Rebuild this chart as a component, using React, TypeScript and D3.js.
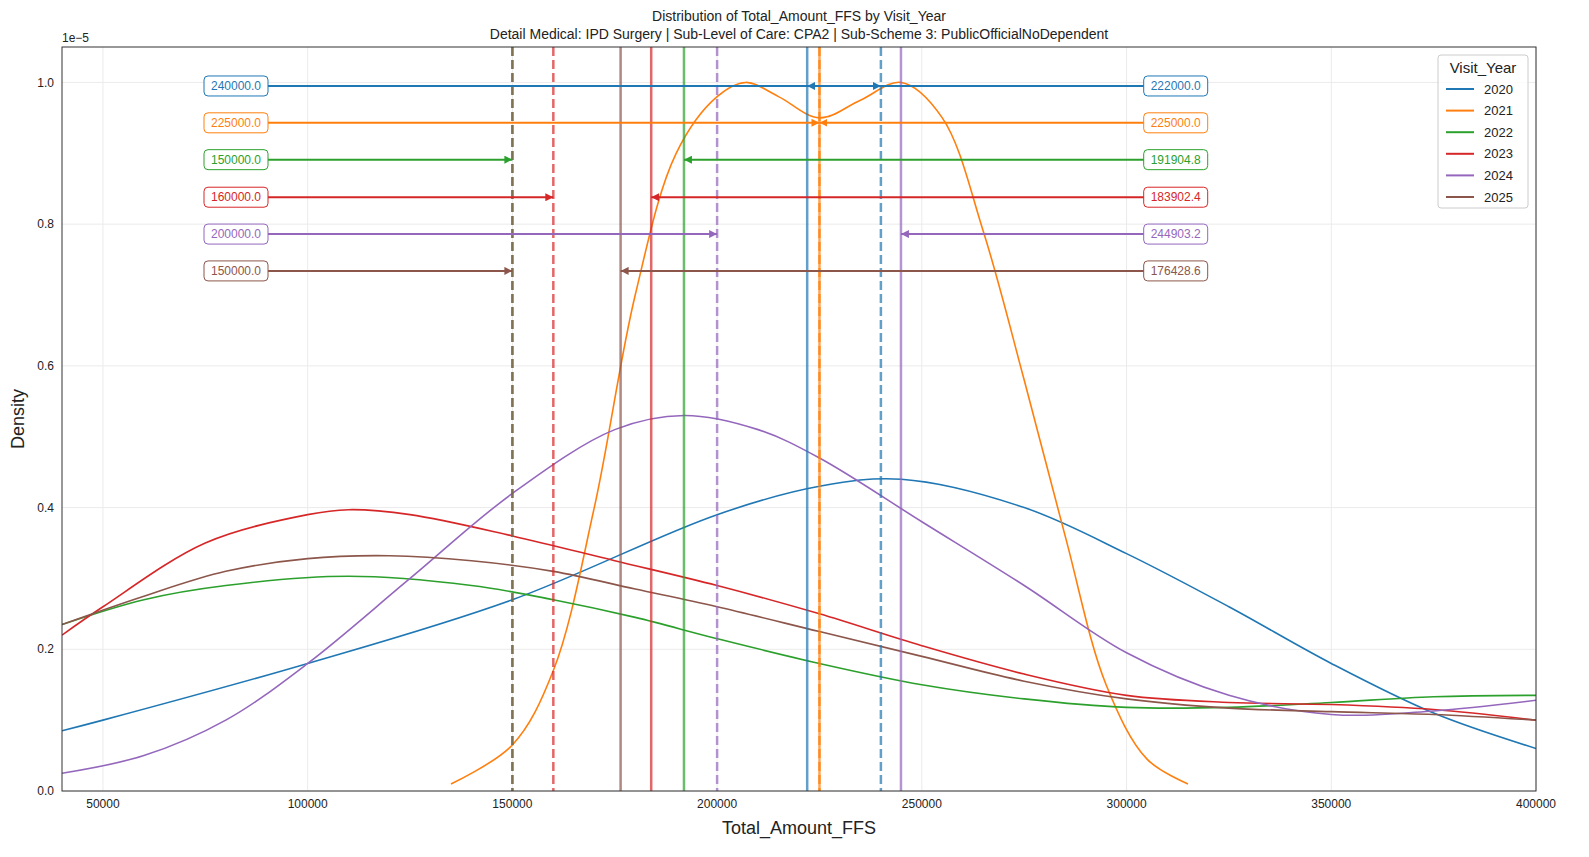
import React, { useRef, useEffect } from "react";
import * as d3 from "d3";

// colours per year, matplotlib tab10
const years = ["2020", "2021", "2022", "2023", "2024", "2025"];
const colors = ["#1f77b4", "#ff7f0e", "#2ca02c", "#d62728", "#9467bd", "#8c564b"];

// dashed lines (left labels) and solid lines (right labels)
const dashedValues = [240000, 225000, 150000, 160000, 200000, 150000];
const solidValues = [222000, 225000, 191904.8, 183902.4, 244903.2, 176428.6];
const arrowRows = [0.995, 0.943, 0.891, 0.838, 0.786, 0.734];

const xTicks = [50000, 100000, 150000, 200000, 250000, 300000, 350000, 400000];
const yTicks = [0, 0.2, 0.4, 0.6, 0.8, 1.0];

// density curves, in units of 1e-5: [x, y]
const d2020: [number, number][] = [[40000, 0.085], [50000, 0.1], [100000, 0.18], [150000, 0.27], [200000, 0.39], [225000, 0.43], [245000, 0.44], [275000, 0.4], [300000, 0.335], [325000, 0.26], [350000, 0.18], [375000, 0.11], [400000, 0.06]];
const d2021: [number, number][] = [[135000, 0.01], [150000, 0.065], [160000, 0.17], [170000, 0.4], [180000, 0.7], [190000, 0.9], [200000, 0.98], [207000, 1.0], [215000, 0.98], [225000, 0.95], [235000, 0.975], [245000, 1.0], [255000, 0.95], [265000, 0.79], [275000, 0.58], [285000, 0.36], [295000, 0.15], [305000, 0.045], [315000, 0.01]];
const d2022: [number, number][] = [[40000, 0.235], [60000, 0.27], [80000, 0.29], [110000, 0.303], [140000, 0.29], [160000, 0.27], [180000, 0.245], [200000, 0.215], [225000, 0.18], [250000, 0.15], [275000, 0.13], [300000, 0.118], [325000, 0.118], [350000, 0.125], [375000, 0.133], [400000, 0.135]];
const d2023: [number, number][] = [[40000, 0.22], [50000, 0.26], [75000, 0.35], [100000, 0.39], [110000, 0.397], [125000, 0.39], [150000, 0.36], [175000, 0.325], [200000, 0.29], [225000, 0.25], [250000, 0.205], [275000, 0.165], [300000, 0.135], [325000, 0.125], [350000, 0.122], [375000, 0.115], [400000, 0.1]];
const d2024: [number, number][] = [[40000, 0.025], [60000, 0.05], [80000, 0.1], [100000, 0.18], [125000, 0.3], [150000, 0.42], [175000, 0.51], [192000, 0.53], [210000, 0.51], [225000, 0.47], [250000, 0.38], [275000, 0.29], [300000, 0.195], [325000, 0.135], [350000, 0.108], [375000, 0.113], [400000, 0.128]];
const d2025: [number, number][] = [[40000, 0.235], [60000, 0.275], [80000, 0.31], [100000, 0.328], [120000, 0.332], [140000, 0.325], [160000, 0.31], [180000, 0.285], [200000, 0.26], [225000, 0.225], [250000, 0.19], [275000, 0.155], [300000, 0.13], [325000, 0.117], [350000, 0.112], [375000, 0.108], [400000, 0.1]];
const curves = [d2020, d2021, d2022, d2023, d2024, d2025];

const App: React.FC = () => {
  const ref = useRef<SVGSVGElement | null>(null);

  useEffect(() => {
    document.body.style.margin = "0";
    if (!ref.current) return;
    const svg = d3.select(ref.current);
    svg.selectAll("*").remove();

    const left = 62, right = 1536, top = 47, bottom = 791;
    const x = d3.scaleLinear().domain([40000, 400000]).range([left, right]);
    const y = d3.scaleLinear().domain([0, 1.05]).range([bottom, top]);
    const font = "'Liberation Sans', Arial, sans-serif";
    svg.style("font-family", font);

    svg.append("defs").selectAll("marker").data(colors).join("marker")
      .attr("id", (_, i) => `arr${i}`)
      .attr("viewBox", "0 0 10 10").attr("refX", 10).attr("refY", 5)
      .attr("markerWidth", 4).attr("markerHeight", 4).attr("orient", "auto")
      .append("path").attr("d", "M0,0L10,5L0,10z").attr("fill", (d) => d);

    svg.append("clipPath").attr("id", "clip").append("rect")
      .attr("x", left).attr("y", top).attr("width", right - left).attr("height", bottom - top);

    // grid
    const grid = svg.append("g").attr("stroke", "#ebebeb").attr("stroke-width", 1);
    xTicks.forEach((t) => grid.append("line").attr("x1", x(t)).attr("x2", x(t)).attr("y1", top).attr("y2", bottom));
    yTicks.forEach((t) => grid.append("line").attr("x1", left).attr("x2", right).attr("y1", y(t)).attr("y2", y(t)));

    const plot = svg.append("g").attr("clip-path", "url(#clip)");
    const line = d3.line<[number, number]>().x((d) => x(d[0])).y((d) => y(d[1])).curve(d3.curveCatmullRom);
    curves.forEach((c, i) => {
      plot.append("path").attr("d", line(c)!).attr("fill", "none")
        .attr("stroke", colors[i]).attr("stroke-width", 1.6);
    });

    // vertical reference lines
    years.forEach((_, i) => {
      plot.append("line").attr("x1", x(dashedValues[i])).attr("x2", x(dashedValues[i]))
        .attr("y1", top).attr("y2", bottom).attr("stroke", colors[i]).attr("stroke-opacity", 0.7)
        .attr("stroke-width", 2.5).attr("stroke-dasharray", "9,4");
      plot.append("line").attr("x1", x(solidValues[i])).attr("x2", x(solidValues[i]))
        .attr("y1", top).attr("y2", bottom).attr("stroke", colors[i]).attr("stroke-opacity", 0.7)
        .attr("stroke-width", 2.5);
    });

    // arrows and labels
    const lx = 82500, rx = 312000;
    years.forEach((_, i) => {
      const yy = y(arrowRows[i]);
      plot.append("line").attr("x1", x(lx)).attr("x2", x(dashedValues[i])).attr("y1", yy).attr("y2", yy)
        .attr("stroke", colors[i]).attr("stroke-width", 2).attr("marker-end", `url(#arr${i})`);
      plot.append("line").attr("x1", x(rx)).attr("x2", x(solidValues[i])).attr("y1", yy).attr("y2", yy)
        .attr("stroke", colors[i]).attr("stroke-width", 2).attr("marker-end", `url(#arr${i})`);
      [[lx, dashedValues[i]], [rx, solidValues[i]]].forEach(([cx, v]) => {
        const g = plot.append("g").attr("transform", `translate(${x(cx)},${yy})`);
        g.append("rect").attr("x", -32).attr("y", -10).attr("width", 64).attr("height", 20)
          .attr("rx", 4).attr("fill", "white").attr("stroke", colors[i]).attr("stroke-width", 1);
        g.append("text").attr("text-anchor", "middle").attr("dy", "0.35em")
          .attr("font-size", 12).attr("fill", colors[i]).text(v.toFixed(1));
      });
    });

    // frame
    svg.append("rect").attr("x", left).attr("y", top).attr("width", right - left).attr("height", bottom - top)
      .attr("fill", "none").attr("stroke", "#333").attr("stroke-width", 1);

    // ticks
    xTicks.forEach((t) => svg.append("text").attr("x", x(t)).attr("y", bottom + 17)
      .attr("text-anchor", "middle").attr("font-size", 12).attr("fill", "#222").text(String(t)));
    yTicks.forEach((t) => svg.append("text").attr("x", left - 8).attr("y", y(t)).attr("dy", "0.35em")
      .attr("text-anchor", "end").attr("font-size", 12).attr("fill", "#222").text(t.toFixed(1)));
    svg.append("text").attr("x", left).attr("y", top - 5).attr("font-size", 12).attr("fill", "#222").text("1e\u22125");

    svg.append("text").attr("x", (left + right) / 2).attr("y", bottom + 43).attr("text-anchor", "middle")
      .attr("font-size", 18).attr("fill", "#222").text("Total_Amount_FFS");
    svg.append("text").attr("transform", `translate(24,${(top + bottom) / 2}) rotate(-90)`)
      .attr("text-anchor", "middle").attr("font-size", 18).attr("fill", "#222").text("Density");
    svg.append("text").attr("x", (left + right) / 2).attr("y", 21).attr("text-anchor", "middle")
      .attr("font-size", 14).attr("fill", "#222").text("Distribution of Total_Amount_FFS by Visit_Year");
    svg.append("text").attr("x", (left + right) / 2).attr("y", 39).attr("text-anchor", "middle")
      .attr("font-size", 14).attr("fill", "#222")
      .text("Detail Medical: IPD Surgery | Sub-Level of Care: CPA2 | Sub-Scheme 3: PublicOfficialNoDependent");

    // legend
    const lg = svg.append("g").attr("transform", "translate(1438,55)");
    lg.append("rect").attr("width", 90).attr("height", 153).attr("rx", 3)
      .attr("fill", "white").attr("fill-opacity", 0.8).attr("stroke", "#ccc");
    lg.append("text").attr("x", 45).attr("y", 18).attr("text-anchor", "middle")
      .attr("font-size", 15).attr("fill", "#222").text("Visit_Year");
    years.forEach((yr, i) => {
      const yy = 34 + i * 21.6;
      lg.append("line").attr("x1", 8).attr("x2", 36).attr("y1", yy).attr("y2", yy)
        .attr("stroke", colors[i]).attr("stroke-width", 2);
      lg.append("text").attr("x", 46).attr("y", yy).attr("dy", "0.35em")
        .attr("font-size", 13).attr("fill", "#222").text(yr);
    });
  }, []);

  return <svg ref={ref} width={1589} height={857} style={{ display: "block" }}></svg>;
};

export default App;
